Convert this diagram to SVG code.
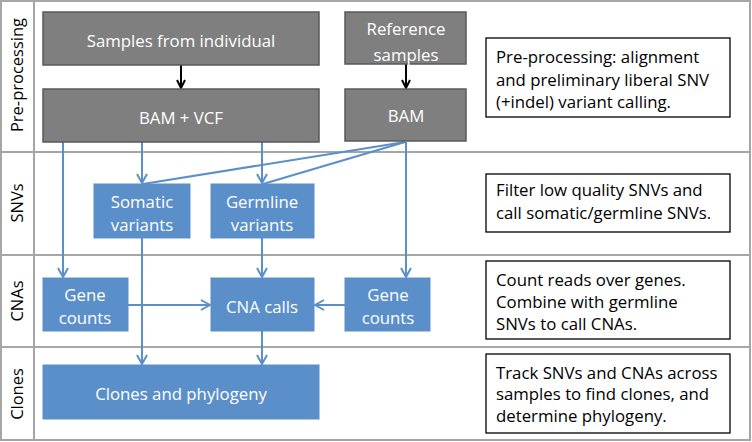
<svg xmlns="http://www.w3.org/2000/svg" width="752" height="442" viewBox="0 0 752 442">
<defs>
<marker id="ab" markerWidth="10" markerHeight="10" refX="9" refY="5" orient="auto" markerUnits="userSpaceOnUse">
<path d="M1,1 L9,5 L1,9" fill="none" stroke="#000" stroke-width="2"/>
</marker>
<marker id="ablue" markerWidth="12" markerHeight="12" refX="10" refY="6" orient="auto" markerUnits="userSpaceOnUse">
<path d="M1,1 L10,6 L1,11" fill="none" stroke="#5b8fc9" stroke-width="2"/>
</marker>
</defs>
<style>
.grid{fill:none;stroke:#a6a6a6;stroke-width:2}
.gray{fill:#7f7f7f;stroke:#5a5a5a;stroke-width:1.5}
.blue{fill:#5b8fc9;stroke:#5b8fc9;stroke-width:1}
.note{fill:#fff;stroke:#000;stroke-width:1.3}
text{font-family:"Open Sans","Liberation Sans",sans-serif;font-size:16.8px}
.w{fill:#fff;text-anchor:middle}
.k{fill:#000}
.lab{fill:#000;text-anchor:middle;font-size:16.5px}
.bl{fill:none;stroke:#5b8fc9;stroke-width:2}
.bk{fill:none;stroke:#000;stroke-width:2}
</style>
<rect width="752" height="442" fill="#fff"/>
<g id="frame">
<rect class="grid" x="1" y="1" width="749" height="439"/>
<line class="grid" x1="34" y1="1" x2="34" y2="440"/>
<line class="grid" x1="1" y1="152" x2="750" y2="152"/>
<line class="grid" x1="1" y1="255" x2="750" y2="255"/>
<line class="grid" x1="1" y1="347" x2="750" y2="347"/>
<text class="lab" transform="translate(23,75) rotate(-90)">Pre-processing</text>
<text class="lab" transform="translate(23,203) rotate(-90)">SNVs</text>
<text class="lab" transform="translate(23,301) rotate(-90)">CNAs</text>
<text class="lab" transform="translate(23,394) rotate(-90)">Clones</text>
</g>
<g id="connectors">
<line class="bk" x1="181" y1="65" x2="181" y2="88" marker-end="url(#ab)"/>
<line class="bk" x1="406" y1="64" x2="406" y2="88" marker-end="url(#ab)"/>
<line class="bl" x1="63" y1="142" x2="63" y2="277" marker-end="url(#ablue)"/>
<line class="bl" x1="142" y1="142" x2="142" y2="183" marker-end="url(#ablue)"/>
<line class="bl" x1="262" y1="142" x2="262" y2="183" marker-end="url(#ablue)"/>
<line class="bl" x1="405" y1="142" x2="143" y2="184"/>
<line class="bl" x1="405" y1="142" x2="263" y2="184"/>
<line class="bl" x1="406" y1="142" x2="406" y2="277" marker-end="url(#ablue)"/>
<line class="bl" x1="142" y1="238" x2="142" y2="364" marker-end="url(#ablue)"/>
<line class="bl" x1="262" y1="238" x2="262" y2="277" marker-end="url(#ablue)"/>
<line class="bl" x1="128" y1="305" x2="210" y2="305" marker-end="url(#ablue)"/>
<line class="bl" x1="345" y1="305" x2="315" y2="305" marker-end="url(#ablue)"/>
<line class="bl" x1="262" y1="331" x2="262" y2="364" marker-end="url(#ablue)"/>
</g>
<g id="samples">
<rect class="gray" x="43" y="12" width="276" height="53"/>
<text class="w" x="181" y="47">Samples from individual</text>
</g>
<g id="bamvcf">
<rect class="gray" x="43" y="89" width="276" height="53"/>
<text class="w" x="181" y="124">BAM + VCF</text>
</g>
<g id="refsamples">
<rect class="gray" x="345" y="12" width="121" height="52"/>
<text class="w" x="406" y="35">Reference</text>
<text class="w" x="406" y="61">samples</text>
</g>
<g id="bam">
<rect class="gray" x="345" y="89" width="121" height="52"/>
<text class="w" x="406" y="122">BAM</text>
</g>
<g id="note1">
<rect class="note" x="486" y="38" width="244" height="79"/>
<text class="k" x="496" y="63">Pre-processing: alignment</text>
<text class="k" x="496" y="86">and preliminary liberal SNV</text>
<text class="k" x="496" y="108">(+indel) variant calling.</text>
</g>
<g id="somatic">
<rect class="blue" x="94" y="184" width="96" height="54"/>
<text class="w" x="142" y="208">Somatic</text>
<text class="w" x="142" y="231">variants</text>
</g>
<g id="germline">
<rect class="blue" x="211" y="184" width="103" height="54"/>
<text class="w" x="262" y="208">Germline</text>
<text class="w" x="262" y="231">variants</text>
</g>
<g id="note2">
<rect class="note" x="486" y="174" width="244" height="58"/>
<text class="k" x="496" y="196">Filter low quality SNVs and</text>
<text class="k" x="496" y="219">call somatic/germline SNVs.</text>
</g>
<g id="genecounts1">
<rect class="blue" x="43" y="278" width="85" height="53"/>
<text class="w" x="85" y="301">Gene</text>
<text class="w" x="85" y="324">counts</text>
</g>
<g id="cnacalls">
<rect class="blue" x="211" y="278" width="103" height="53"/>
<text class="w" x="262" y="313">CNA calls</text>
</g>
<g id="genecounts2">
<rect class="blue" x="345" y="278" width="85" height="53"/>
<text class="w" x="388" y="301">Gene</text>
<text class="w" x="388" y="324">counts</text>
</g>
<g id="note3">
<rect class="note" x="486" y="261" width="244" height="78"/>
<text class="k" x="496" y="286">Count reads over genes.</text>
<text class="k" x="496" y="308">Combine with germline</text>
<text class="k" x="496" y="330">SNVs to call CNAs.</text>
</g>
<g id="clones">
<rect class="blue" x="43" y="365" width="276" height="54"/>
<text class="w" x="181" y="400">Clones and phylogeny</text>
</g>
<g id="note4">
<rect class="note" x="486" y="354" width="244" height="79"/>
<text class="k" x="496" y="379">Track SNVs and CNAs across</text>
<text class="k" x="496" y="400">samples to find clones, and</text>
<text class="k" x="496" y="422">determine phylogeny.</text>
</g>
</svg>
